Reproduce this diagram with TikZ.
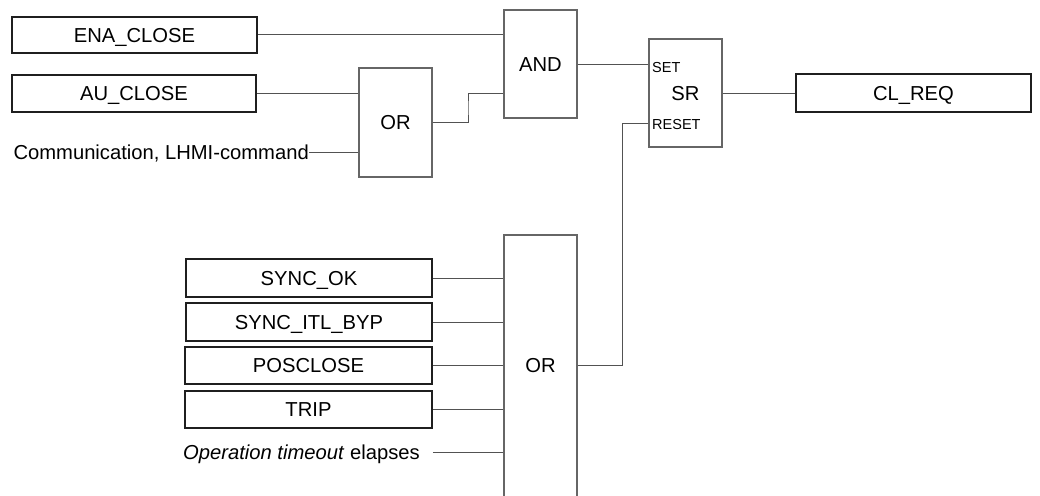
\documentclass[tikz,border=0pt]{standalone}
\usepackage{fontspec}
\setmainfont{Liberation Sans}
\usetikzlibrary{calc}
\newcommand{\bigf}{\fontsize{20.2}{24}\selectfont}
\newcommand{\smallf}{\fontsize{14.5}{17}\selectfont}
\tikzset{
  inbox/.style={draw=black!88, line width=1.8pt, minimum width=245pt, minimum height=36pt, inner sep=0pt, font=\bigf, text height=14.5pt, text depth=0pt},
  gate/.style={draw=black!60, line width=1.1pt, minimum width=73pt, inner sep=0pt, font=\bigf, text height=14.5pt, text depth=0pt},
  wire/.style={draw=black!68, line width=1pt},
  txt/.style={inner sep=0pt, font=\bigf, text height=14.5pt, text depth=0pt},
  pin/.style={inner sep=0pt, font=\smallf, text height=10.4pt, text depth=0pt}
}
\begin{document}
\begin{tikzpicture}[x=1pt,y=-1pt]
\useasboundingbox (0,0) rectangle (1040,495);
\clip (0,0) rectangle (1040,495);
% input boxes
\node[inbox] (ena) at (134.5,35) {ENA\_CLOSE};
\node[inbox, minimum width=244pt, minimum height=37pt] (au) at (134,93.5) {AU\_CLOSE};
\node[txt, anchor=east] (comm) at (309,152) {Communication, LHMI-command};
% gates
\node[gate, minimum height=108pt] (and) at (540.5,64) {AND};
\node[gate, minimum height=109pt] (or1) at (395.5,122.5) {OR};
\node[gate, minimum height=108pt] (sr) at (685.5,93) {};
\node[txt] (srlbl) at (685.5,93) {SR};
\node[pin, anchor=west] (set) at (652,67) {SET};
\node[pin, anchor=west] (reset) at (652,124) {RESET};
\node[inbox, minimum width=235pt, minimum height=38pt] (cl) at (913.5,93) {CL\_REQ};
% lower part
\node[inbox, minimum width=246pt, minimum height=38pt] (sync) at (309,278) {SYNC\_OK};
\node[inbox, minimum width=246pt, minimum height=38pt] (itl) at (309,322) {SYNC\_ITL\_BYP};
\node[inbox, minimum width=247pt, minimum height=37pt] (pos) at (308.5,365.5) {POSCLOSE};
\node[inbox, minimum width=247pt, minimum height=37pt] (trip) at (308.5,409.5) {TRIP};
\node[txt, anchor=west] (tout) at (183,452) {\textit{Operation timeout} elapses};
\node[gate, minimum height=290pt] (or2) at (540.5,380) {};
\node[txt] (or2lbl) at (540.5,365) {OR};
% wires
\draw[wire] (ena.east) -- (and.west |- ena.east);
\draw[wire] (au.east) -- (or1.west |- au.east);
\draw[wire] (comm.east) -- (or1.west |- comm.east);
\draw[wire] (or1.east) -| ($(or1.east)!0.5!(and.west |- au.east)$) |- (and.west |- au.east);
\draw[wire] (and.east) -- (sr.west |- and.east);
\draw[wire] (sr.east) -- (cl.west);
\draw[wire] (sync.east) -- (or2.west |- sync.east);
\draw[wire] (itl.east) -- (or2.west |- itl.east);
\draw[wire] (pos.east) -- (or2.west |- pos.east);
\draw[wire] (trip.east) -- (or2.west |- trip.east);
\draw[wire] (trip.east |- tout.east) -- (or2.west |- tout.east);
\draw[wire] (or2.east |- or2lbl) -- ++(45,0) |- (sr.west |- 0,123);
\end{tikzpicture}
\end{document}
